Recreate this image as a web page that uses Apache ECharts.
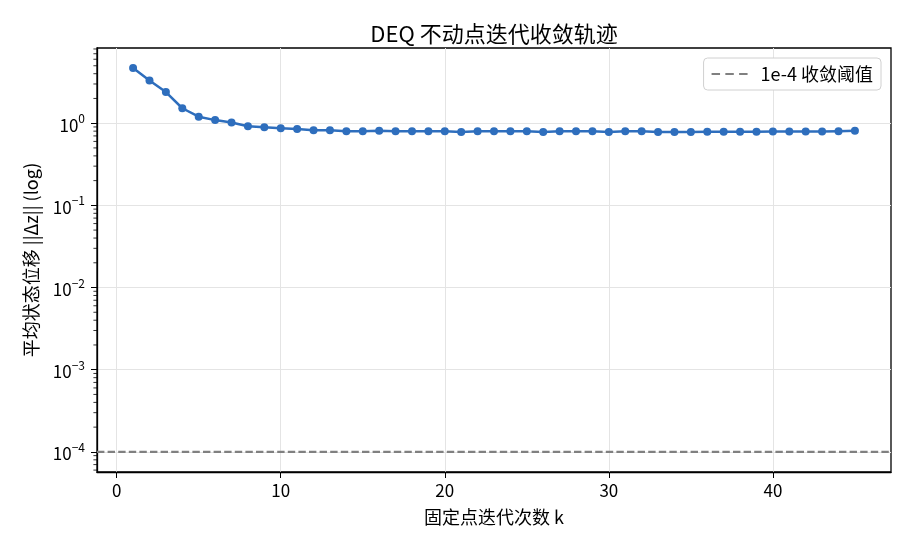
<!DOCTYPE html>
<html lang="zh">
<head>
<meta charset="UTF-8">
<title>DEQ 不动点迭代收敛轨迹</title>
<script src="https://cdn.jsdelivr.net/npm/echarts@6/dist/echarts.min.js"></script>
<style>
  html, body { margin: 0; padding: 0; background: #fff; }
  #main { width: 910px; height: 546px; }
</style>
</head>
<body>
<div id="main"></div>
<script>
// 迭代次数
var iters = [1, 2, 3, 4, 5, 6, 7, 8, 9, 10, 11, 12, 13, 14, 15, 16, 17, 18, 19, 20,
  21, 22, 23, 24, 25, 26, 27, 28, 29, 30, 31, 32, 33, 34, 35, 36, 37, 38, 39, 40,
  41, 42, 43, 44, 45];
// 平均状态位移 ||Δz||
var deltas = [4.69, 3.31, 2.39, 1.52, 1.20, 1.09, 1.02, 0.92, 0.89, 0.87,
  0.85, 0.82, 0.82, 0.80, 0.80, 0.81, 0.80, 0.80, 0.80, 0.80,
  0.78, 0.80, 0.80, 0.80, 0.80, 0.78, 0.80, 0.80, 0.80, 0.78,
  0.80, 0.80, 0.78, 0.78, 0.78, 0.785, 0.785, 0.785, 0.785, 0.79,
  0.79, 0.79, 0.79, 0.80, 0.81];
var threshold = 1e-4;
var thresholdName = '1e-4 收敛阈值';

var font = '"Noto Sans CJK SC", "Noto Sans", sans-serif';
var lineColor = '#2e6ebd';
var dash = [7.4, 3.2];

var xMin = -1.2, xMax = 47.2;
var yMin = Math.pow(10, -4.245), yMax = Math.pow(10, 0.915);

var points = iters.map(function (k, i) { return [k, deltas[i]]; });
// 阈值水平线：横跨整个 x 轴范围
var thresholdLine = [[xMin, threshold], [xMax, threshold]];

var myChart = echarts.init(document.getElementById('main'));

var option = {
  animation: false,
  textStyle: { fontFamily: font },
  title: {
    text: 'DEQ 不动点迭代收敛轨迹',
    left: 489, top: 18, textAlign: 'center',
    textStyle: { fontSize: 22, fontWeight: 'normal', color: '#000', fontFamily: font }
  },
  legend: {
    data: [{
      name: thresholdName,
      icon: 'path://M0,0h8v2h-8z M13,0h8v2h-8z M26,0h8v2h-8z',
      itemStyle: { color: '#808080', opacity: 1 }
    }],
    right: 29, top: 58,
    padding: [6, 8, 6, 8],
    itemWidth: 36, itemHeight: 2.4,
    borderColor: '#d0d0d0', borderWidth: 1, borderRadius: 4,
    backgroundColor: '#fff',
    textStyle: { fontSize: 18, lineHeight: 20, color: '#000', fontFamily: font, padding: [0, 0, 0, 8] }
  },
  grid: {
    left: 97, right: 19, top: 48, bottom: 74,
    show: true, borderColor: '#000', borderWidth: 1.3
  },
  xAxis: {
    type: 'value',
    min: xMin, max: xMax,
    name: '固定点迭代次数 k',
    nameLocation: 'middle', nameGap: 36,
    nameTextStyle: { fontSize: 18, color: '#000', fontFamily: font },
    axisLine: { show: true, onZero: false, lineStyle: { color: '#000', width: 1.3 } },
    axisTick: { show: true, length: 6, lineStyle: { color: '#000' } },
    axisLabel: { fontSize: 17, color: '#000', margin: 10, showMinLabel: false, showMaxLabel: false },
    splitLine: { show: true, showMinLine: false, showMaxLine: false, lineStyle: { color: '#e4e4e4' } }
  },
  yAxis: {
    type: 'log', logBase: 10,
    min: yMin, max: yMax,
    name: '平均状态位移 ||Δz|| (log)',
    nameLocation: 'middle', nameGap: 57,
    nameTextStyle: { fontSize: 18, color: '#000', fontFamily: font },
    axisLine: { show: true, onZero: false, lineStyle: { color: '#000', width: 1.3 } },
    axisTick: { show: true, length: 6, lineStyle: { color: '#000' } },
    axisLabel: {
      color: '#000', margin: 12, showMinLabel: false, showMaxLabel: false,
      formatter: function (v) {
        var e = Math.round(Math.log10(v));
        return '{b|10}{s|' + (e < 0 ? '\u2212' + (-e) : e) + '}';
      },
      rich: {
        b: { fontSize: 17, color: '#000', verticalAlign: 'bottom', fontFamily: font },
        s: { fontSize: 12, color: '#000', verticalAlign: 'bottom', padding: [0, 0, 9, 0], fontFamily: font }
      }
    },
    splitLine: { show: true, showMinLine: false, showMaxLine: false, lineStyle: { color: '#e4e4e4' } }
  },
  series: [
    {
      name: '平均状态位移',
      type: 'line',
      data: points,
      symbol: 'circle', symbolSize: 8,
      itemStyle: { color: lineColor },
      lineStyle: { color: lineColor, width: 2.5 },
      z: 3
    },
    {
      name: thresholdName,
      type: 'line',
      data: thresholdLine,
      symbol: 'none',
      silent: true,
      itemStyle: { color: '#808080' },
      lineStyle: { color: '#808080', width: 2.2, type: dash },
      z: 2
    }
  ]
};

myChart.setOption(option);

// 对数轴次刻度 (2..9 × 10^n)，位置由坐标轴换算
function drawMinorTicks() {
  var els = [];
  var x0 = myChart.convertToPixel({ xAxisIndex: 0 }, xMin);
  var yTop = myChart.convertToPixel({ yAxisIndex: 0 }, yMax);
  var yBot = myChart.convertToPixel({ yAxisIndex: 0 }, yMin);
  for (var n = -5; n <= 0; n++) {
    for (var m = 2; m <= 9; m++) {
      var v = m * Math.pow(10, n);
      var py = myChart.convertToPixel({ yAxisIndex: 0 }, v);
      if (py < yTop || py > yBot) continue;
      els.push({
        type: 'line', silent: true,
        shape: { x1: x0 - 3.6, y1: py, x2: x0, y2: py },
        style: { stroke: '#000', lineWidth: 0.8 }
      });
    }
  }
  myChart.setOption({ graphic: els });
}
drawMinorTicks();
</script>
</body>
</html>
